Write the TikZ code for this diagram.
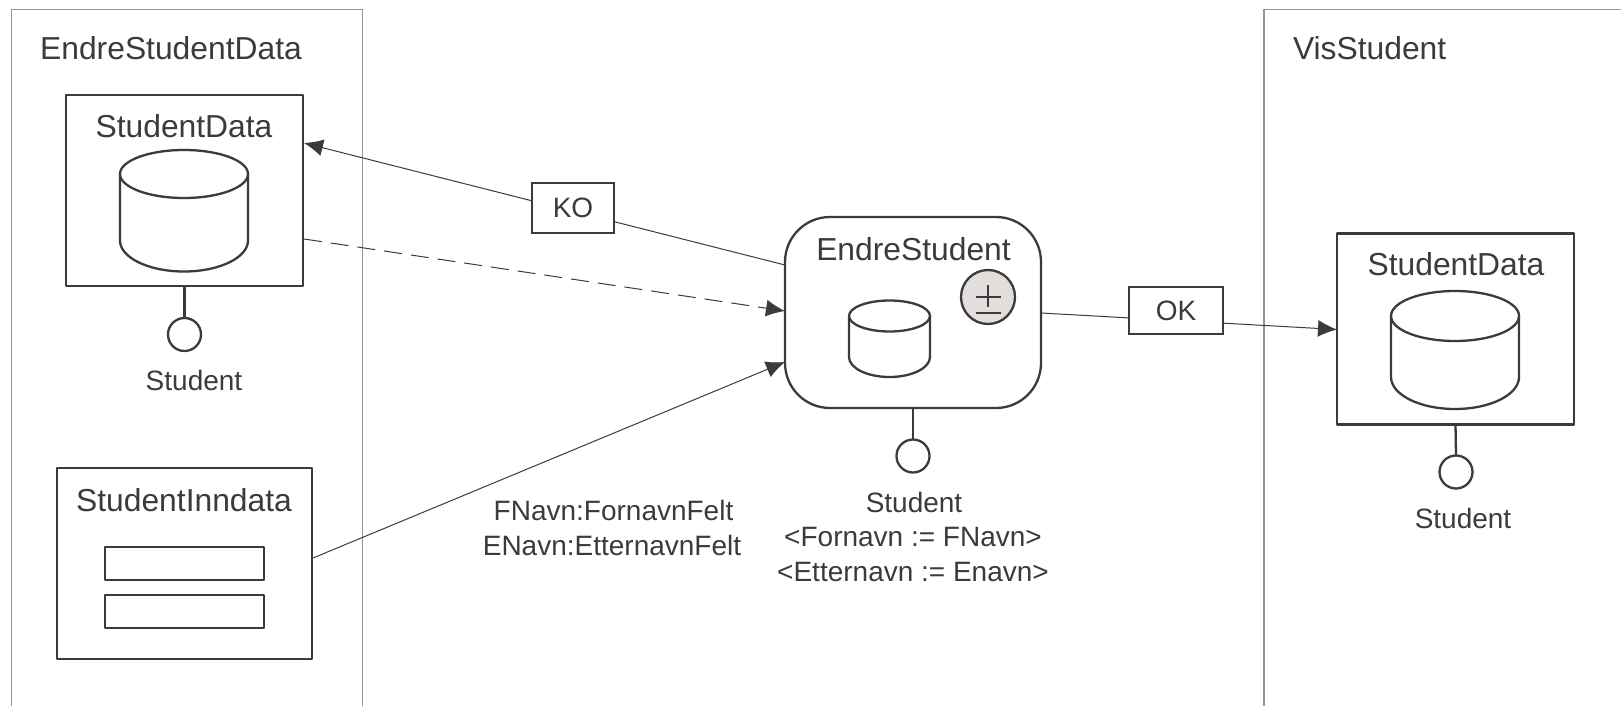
\documentclass[tikz,border=0pt]{standalone}
\usepackage{fontspec}
\setmainfont{Liberation Sans}
\usetikzlibrary{arrows.meta}
\definecolor{ink}{HTML}{3B3A3F}
\definecolor{panelline}{HTML}{9A9588}
\definecolor{plusfill}{HTML}{E3DEDC}
\newcommand{\cylshape}[6]{% cx, top centre y, rx, top ry, side height, bottom ry
  \draw[thickline] (#1-#3,#2) arc[start angle=180,end angle=540,x radius=#3,y radius=#4];
  \draw[thickline] (#1-#3,#2) -- ++(0,#5) arc[start angle=180,end angle=360,x radius=#3,y radius=-#6] -- (#1+#3,#2);
}
\tikzset{
  x=1pt,y=-1pt,
  every node/.style={text=ink,inner sep=0pt,outer sep=0pt},
  thickline/.style={draw=ink,line width=2.3pt,line join=round},
  thinline/.style={draw=ink,line width=1pt},
  panel/.style={draw=panelline,line width=1.2pt},
  boxnode/.style={thickline,rectangle,fill=white},
  roundnode/.style={thickline,rectangle,rounded corners=45pt,fill=white,minimum width=256pt,minimum height=191pt},
  title/.style={font=\fontsize{31.8}{36}\selectfont,anchor=base},
  small/.style={font=\fontsize{28}{33}\selectfont,anchor=base},
  lollipop/.style={thickline,circle,fill=white,minimum size=33pt},
  tag/.style={draw=ink,line width=1.8pt,rectangle,fill=white,font=\fontsize{28}{33}\selectfont},
  arrowline/.style={thinline,-{Latex[length=19pt,width=17pt]}},
}
\begin{document}
\begin{tikzpicture}
\useasboundingbox (0,0) rectangle (1621,706);
\fill[white] (0,0) rectangle (1621,706);
% panels
\draw[panel] (11.5,706) -- (11.5,9.5) -- (362.5,9.5) -- (362.5,706);
\draw[panel] (1264,706) -- (1264,9.5) -- (1621,9.5);
\node[title] (panelL) at (171,59.5) {EndreStudentData};
\node[title,anchor=base west] (panelR) at (1293,60) {VisStudent};
% connector ends
\coordinate (koFrom) at (785,265);
\coordinate (koTo) at (304,143);
\coordinate (dashFrom) at (304,239);
\coordinate (dashTo) at (785,311);
\coordinate (inFrom) at (313,558);
\coordinate (inTo) at (785,362);
\coordinate (okFrom) at (1041,313);
\coordinate (okTo) at (1337,329.5);
% boxes
\node[boxnode,minimum width=237pt,minimum height=191pt] (sdL) at (184.5,190.5) {};
\node[boxnode,minimum width=255pt,minimum height=191pt] (sin) at (184.5,563.5) {};
\node[roundnode] (es) at (913,312.5) {};
\node[boxnode,minimum width=237pt,minimum height=191pt] (sdR) at (1455.5,329) {};
% connectors
\draw[arrowline] (koFrom) -- (koTo);
\draw[arrowline,dash pattern=on 18pt off 9pt] (dashFrom) -- (dashTo);
\draw[arrowline] (inFrom) -- (inTo);
\draw[arrowline] (okFrom) -- (okTo);
\node[tag,minimum width=82pt,minimum height=50pt] (ko) at (573,208) {KO};
\node[tag,minimum width=94pt,minimum height=47pt] (ok) at (1176,310.5) {OK};
% titles
\node[title] (tSdL) at (184,137) {StudentData};
\node[title] (tSin) at (184,511) {StudentInndata};
\node[title] (tEs) at (913.5,260) {EndreStudent};
\node[title] (tSdR) at (1456,275.5) {StudentData};
% cylinders
\cylshape{184}{174}{64}{24}{66.5}{31}
\cylshape{889.5}{316}{40.5}{15.5}{41}{20}
\cylshape{1455}{316}{64}{25}{61}{32}
% fields
\node[thickline,rectangle,minimum width=159pt,minimum height=32.5pt] (f1) at (184.5,563.5) {};
\node[thickline,rectangle,minimum width=159pt,minimum height=32.5pt] (f2) at (184.5,611.5) {};
% plus/minus marker
\node[thickline,circle,fill=plusfill,minimum size=54pt] (pm) at (988,297) {};
\draw[ink,line width=1.8pt] (975.5,297) -- (1001,297) (988,285) -- (988,307);
\draw[ink,line width=1.8pt] (975.5,313) -- (1001,313);
% lollipops
\node[lollipop] (lL) at (184.5,334.5) {};
\node[lollipop] (lE) at (913,456) {};
\node[lollipop] (lR) at (1456,472) {};
\draw[thickline] (sdL.south) -- (lL.north);
\draw[thickline] (es.south) -- (lE.north);
\draw[thickline] (sdR.south) -- (lR.north);
% labels
\node[small] (sL) at (194,390) {Student};
\node[small] (sR) at (1463,528) {Student};
\node[small] (sE) at (914,512) {Student};
\node[small] (aF) at (913,546) {<Fornavn := FNavn>};
\node[small] (aE) at (913,581) {<Etternavn := Enavn>};
\node[small] (fF) at (613.5,520) {FNavn:FornavnFelt};
\node[small] (fE) at (612,555) {ENavn:EtternavnFelt};
\end{tikzpicture}
\end{document}
